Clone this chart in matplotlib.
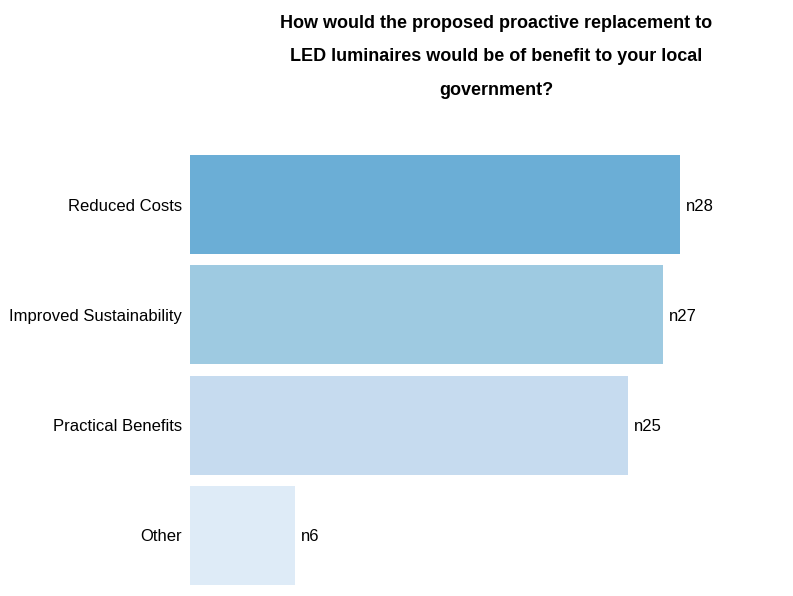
import matplotlib
matplotlib.use("Agg")
import matplotlib.pyplot as plt

plt.rcParams['font.family'] = ['Liberation Sans', 'DejaVu Sans']

categories = ["Reduced Costs", "Improved Sustainability", "Practical Benefits", "Other"]
counts = [28, 27, 25, 6]
colors = ["#6baed6", "#9ecae1", "#c6dbef", "#deebf7"]
title = "How would the proposed proactive replacement to\nLED luminaires would be of benefit to your local\ngovernment?"

W, H = 793, 596
fig = plt.figure(figsize=(W / 100, H / 100), dpi=100)
ax = fig.add_axes([190 / W, 5.5 / H, 560 / W, 441 / H])

y = list(range(len(categories)))
ax.barh(y, counts, height=0.9, color=colors)
ax.set_xlim(0, 32)
ax.set_ylim(len(categories) - 0.5, -0.5)
ax.set_yticks(y)
ax.set_yticklabels(categories, fontsize=12, va='center_baseline')
ax.tick_params(axis='y', length=0, pad=6)
ax.set_xticks([])
for s in ax.spines.values():
    s.set_visible(False)

for yi, c in zip(y, counts):
    ax.text(c + 0.36, yi, f"n{c}", va='center_baseline', ha='left', fontsize=12)

fig.text(496 / W, 1 - 14.5 / H, title, ha='center', va='top', fontsize=13,
         fontweight='bold', linespacing=2.28)

fig.savefig("out.png", dpi=100)
